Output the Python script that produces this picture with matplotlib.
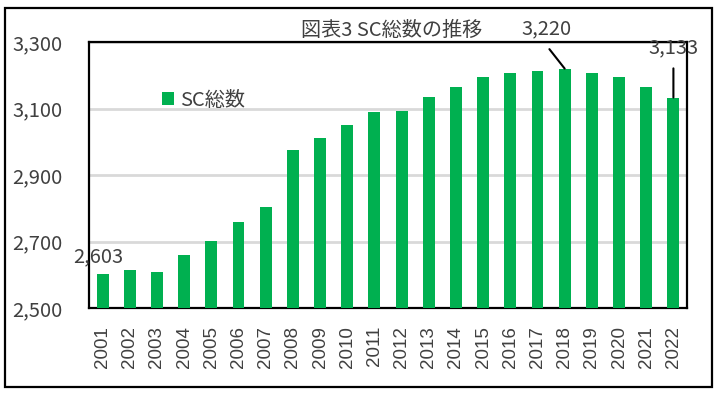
import matplotlib
matplotlib.use("Agg")
import matplotlib.pyplot as plt
from matplotlib.patches import Rectangle

years = [str(y) for y in range(2001, 2023)]
sc_total = [2603, 2615, 2609, 2658, 2701, 2760, 2804, 2976, 3011, 3050, 3088,
            3092, 3136, 3164, 3195, 3206, 3213, 3220, 3206, 3195, 3164, 3133]
y_ticks = [2500, 2700, 2900, 3100, 3300]
title = "図表3 SC総数の推移"
series_name = "SC総数"

GREEN = "#00b050"
GRAY = "#404040"

plt.rcParams["font.family"] = ["Noto Sans CJK JP", "DejaVu Sans"]

fig = plt.figure(figsize=(7.22, 3.94), dpi=100)
ax = fig.add_axes([89 / 722, 1 - 308 / 394, 598 / 722, 266 / 394])

x = range(len(years))
ax.bar(x, sc_total, width=0.44, color=GREEN, label=series_name, zorder=2)

ax.set_xlim(-0.5, len(years) - 0.5)
ax.set_ylim(y_ticks[0], y_ticks[-1])
ax.set_yticks(y_ticks)
ax.set_yticklabels([f"{v:,}" for v in y_ticks], fontsize=14.5, color=GRAY)
ax.set_xticks(list(x))
ax.set_xticklabels(years, rotation=90, fontsize=13.5, color=GRAY,
                   family="Liberation Sans")
ax.tick_params(axis="y", length=0, pad=19)
ax.tick_params(axis="x", length=0, pad=13)
ax.yaxis.grid(True, color="#d9d9d9", linewidth=2)
ax.set_axisbelow(True)
for spine in ax.spines.values():
    spine.set_linewidth(1.6)
    spine.set_color("black")
    spine.set_zorder(1)

# value labels for first, peak and last year
label_style = dict(fontsize=14.5, color=GRAY, ha="center", va="center",
                   annotation_clip=False, textcoords="offset points", zorder=5)
ax.annotate(f"{sc_total[0]:,}", xy=(0, sc_total[0]), xytext=(-3, 12), **label_style)

peak = sc_total.index(max(sc_total))
ax.annotate(f"{sc_total[peak]:,}", xy=(peak, sc_total[peak]), xytext=(-13, 29), **label_style)
ax.annotate("", xy=(peak, sc_total[peak]), xytext=(-11, 14), textcoords="offset points",
            arrowprops=dict(arrowstyle="-", color="black", lw=1.5, shrinkA=0, shrinkB=0))

last = len(sc_total) - 1
ax.annotate(f"{sc_total[last]:,}", xy=(last, sc_total[last]), xytext=(0, 36), **label_style)
ax.annotate("", xy=(last, sc_total[last]), xytext=(0, 21), textcoords="offset points",
            arrowprops=dict(arrowstyle="-", color="black", lw=1.5, shrinkA=0, shrinkB=0))

ax.legend(loc="center left", bbox_to_anchor=(152 / 722, 1 - 100 / 394),
          bbox_transform=fig.transFigure, frameon=False, fontsize=14.5,
          handlelength=0.6, handleheight=0.6, handletextpad=0.3,
          borderpad=0, labelcolor=GRAY)

fig.text(392 / 722, 1 - 30 / 394, title, ha="center", va="center",
         fontsize=14.5, color=GRAY)

fig.patches.append(Rectangle((5 / 722, 1 - 387 / 394), 707 / 722, 379 / 394,
                             transform=fig.transFigure, fill=False,
                             edgecolor="black", linewidth=1.6))

fig.savefig("out.png", dpi=100)
